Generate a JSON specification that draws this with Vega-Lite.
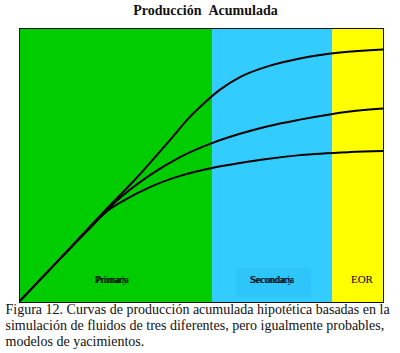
{
  "$schema": "https://vega.github.io/schema/vega-lite/v6.json",
  "autosize": {"type": "none"},
  "width": 363,
  "height": 273,
  "padding": {"left": 20, "top": 29, "right": 17, "bottom": 51},
  "background": "white",
  "title": {
    "text": "Producción\u00a0\u00a0Acumulada",
    "font": "Liberation Serif",
    "fontSize": 14,
    "fontWeight": "bold",
    "color": "#111111",
    "anchor": "middle",
    "offset": 11,
    "dx": 4
  },
  "config": {
    "view": {"stroke": "#111111", "strokeWidth": 2}
  },
  "datasets": {
    "regions": [
      {"phase": "Primary", "x0": 0, "x1": 52.9},
      {"phase": "Secondary", "x0": 52.9, "x1": 86.0},
      {"phase": "EOR", "x0": 86.0, "x1": 100}
    ],
    "curves": [
      {"model": "A", "x": 0, "y": 0.4},
      {"model": "A", "x": 11.0, "y": 15.8},
      {"model": "A", "x": 22.0, "y": 31.5},
      {"model": "A", "x": 33.1, "y": 46.9},
      {"model": "A", "x": 41.3, "y": 59.3},
      {"model": "A", "x": 46.8, "y": 67.8},
      {"model": "A", "x": 51.0, "y": 73.2},
      {"model": "A", "x": 55.1, "y": 77.8},
      {"model": "A", "x": 60.6, "y": 82.4},
      {"model": "A", "x": 68.9, "y": 86.6},
      {"model": "A", "x": 77.1, "y": 89.2},
      {"model": "A", "x": 88.2, "y": 91.4},
      {"model": "A", "x": 100, "y": 92.5},
      {"model": "B", "x": 0, "y": 0.4},
      {"model": "B", "x": 11.0, "y": 15.8},
      {"model": "B", "x": 20.7, "y": 29.3},
      {"model": "B", "x": 27.5, "y": 38.1},
      {"model": "B", "x": 35.8, "y": 46.5},
      {"model": "B", "x": 44.1, "y": 53.1},
      {"model": "B", "x": 52.9, "y": 58.2},
      {"model": "B", "x": 60.6, "y": 61.6},
      {"model": "B", "x": 68.0, "y": 64.3},
      {"model": "B", "x": 77.1, "y": 66.8},
      {"model": "B", "x": 90.9, "y": 69.8},
      {"model": "B", "x": 100, "y": 70.9},
      {"model": "C", "x": 0, "y": 0.4},
      {"model": "C", "x": 11.0, "y": 15.8},
      {"model": "C", "x": 19.3, "y": 27.1},
      {"model": "C", "x": 23.4, "y": 32.6},
      {"model": "C", "x": 28.9, "y": 37.4},
      {"model": "C", "x": 35.8, "y": 42.1},
      {"model": "C", "x": 44.1, "y": 46.2},
      {"model": "C", "x": 52.9, "y": 49.1},
      {"model": "C", "x": 60.6, "y": 50.9},
      {"model": "C", "x": 68.0, "y": 52.4},
      {"model": "C", "x": 77.1, "y": 53.8},
      {"model": "C", "x": 90.9, "y": 54.9},
      {"model": "C", "x": 100, "y": 55.3}
    ],
    "labelbox": [
      {"x0": 59.5, "x1": 80.2, "y0": 1.8, "y1": 12.5}
    ],
    "labels": [
      {"text": "Primary", "x": 25.3, "y": 8.0, "size": "s"},
      {"text": "Primaria", "x": 25.3, "y": 8.0, "size": "s"},
      {"text": "Secondary", "x": 69.4, "y": 8.0, "size": "s"},
      {"text": "Secundaria", "x": 69.4, "y": 8.0, "size": "s"},
      {"text": "EOR", "x": 94.2, "y": 8.0, "size": "l"}
    ]
  },
  "layer": [
    {
      "data": {"name": "regions"},
      "mark": {"type": "rect"},
      "encoding": {
        "x": {
          "field": "x0", "type": "quantitative",
          "scale": {"domain": [0, 100], "nice": false},
          "axis": {
            "labels": false, "ticks": false, "domain": false, "grid": false,
            "title": [
              "Figura 12. Curvas de producción acumulada hipotética basadas en la",
              "simulación de fluidos de tres diferentes, pero igualmente probables,",
              "modelos de yacimientos."
            ],
            "titleFont": "Liberation Serif",
            "titleFontSize": 14,
            "titleFontWeight": "normal",
            "titleColor": "#111111",
            "titleAnchor": "start",
            "titleAlign": "left",
            "titleBaseline": "top",
            "titleLineHeight": 16,
            "titleX": -15,
            "titleY": 0
          }
        },
        "x2": {"field": "x1"},
        "y": {"datum": 0, "type": "quantitative", "scale": {"domain": [0, 100], "nice": false}, "axis": null},
        "y2": {"datum": 100},
        "color": {
          "field": "phase", "type": "nominal",
          "scale": {"domain": ["Primary", "Secondary", "EOR"], "range": ["#00CC00", "#33CCFF", "#FFFF00"]},
          "legend": null
        }
      }
    },
    {
      "data": {"name": "labelbox"},
      "mark": {"type": "rect", "color": "#2EC6FA"},
      "encoding": {
        "x": {"field": "x0", "type": "quantitative"},
        "x2": {"field": "x1"},
        "y": {"field": "y0", "type": "quantitative"},
        "y2": {"field": "y1"}
      }
    },
    {
      "data": {"name": "curves"},
      "mark": {"type": "line", "color": "#000000", "strokeWidth": 2, "interpolate": "monotone"},
      "encoding": {
        "x": {"field": "x", "type": "quantitative"},
        "y": {"field": "y", "type": "quantitative"},
        "detail": {"field": "model"}
      }
    },
    {
      "data": {"name": "labels"},
      "transform": [{"filter": "datum.size == 's'"}],
      "mark": {"type": "text", "font": "Liberation Serif", "fontSize": 10, "color": "#000000", "align": "center", "baseline": "middle"},
      "encoding": {
        "x": {"field": "x", "type": "quantitative"},
        "y": {"field": "y", "type": "quantitative"},
        "text": {"field": "text"}
      }
    },
    {
      "data": {"name": "labels"},
      "transform": [{"filter": "datum.size == 'l'"}],
      "mark": {"type": "text", "font": "Liberation Serif", "fontSize": 11, "color": "#000000", "align": "center", "baseline": "middle"},
      "encoding": {
        "x": {"field": "x", "type": "quantitative"},
        "y": {"field": "y", "type": "quantitative"},
        "text": {"field": "text"}
      }
    }
  ]
}
